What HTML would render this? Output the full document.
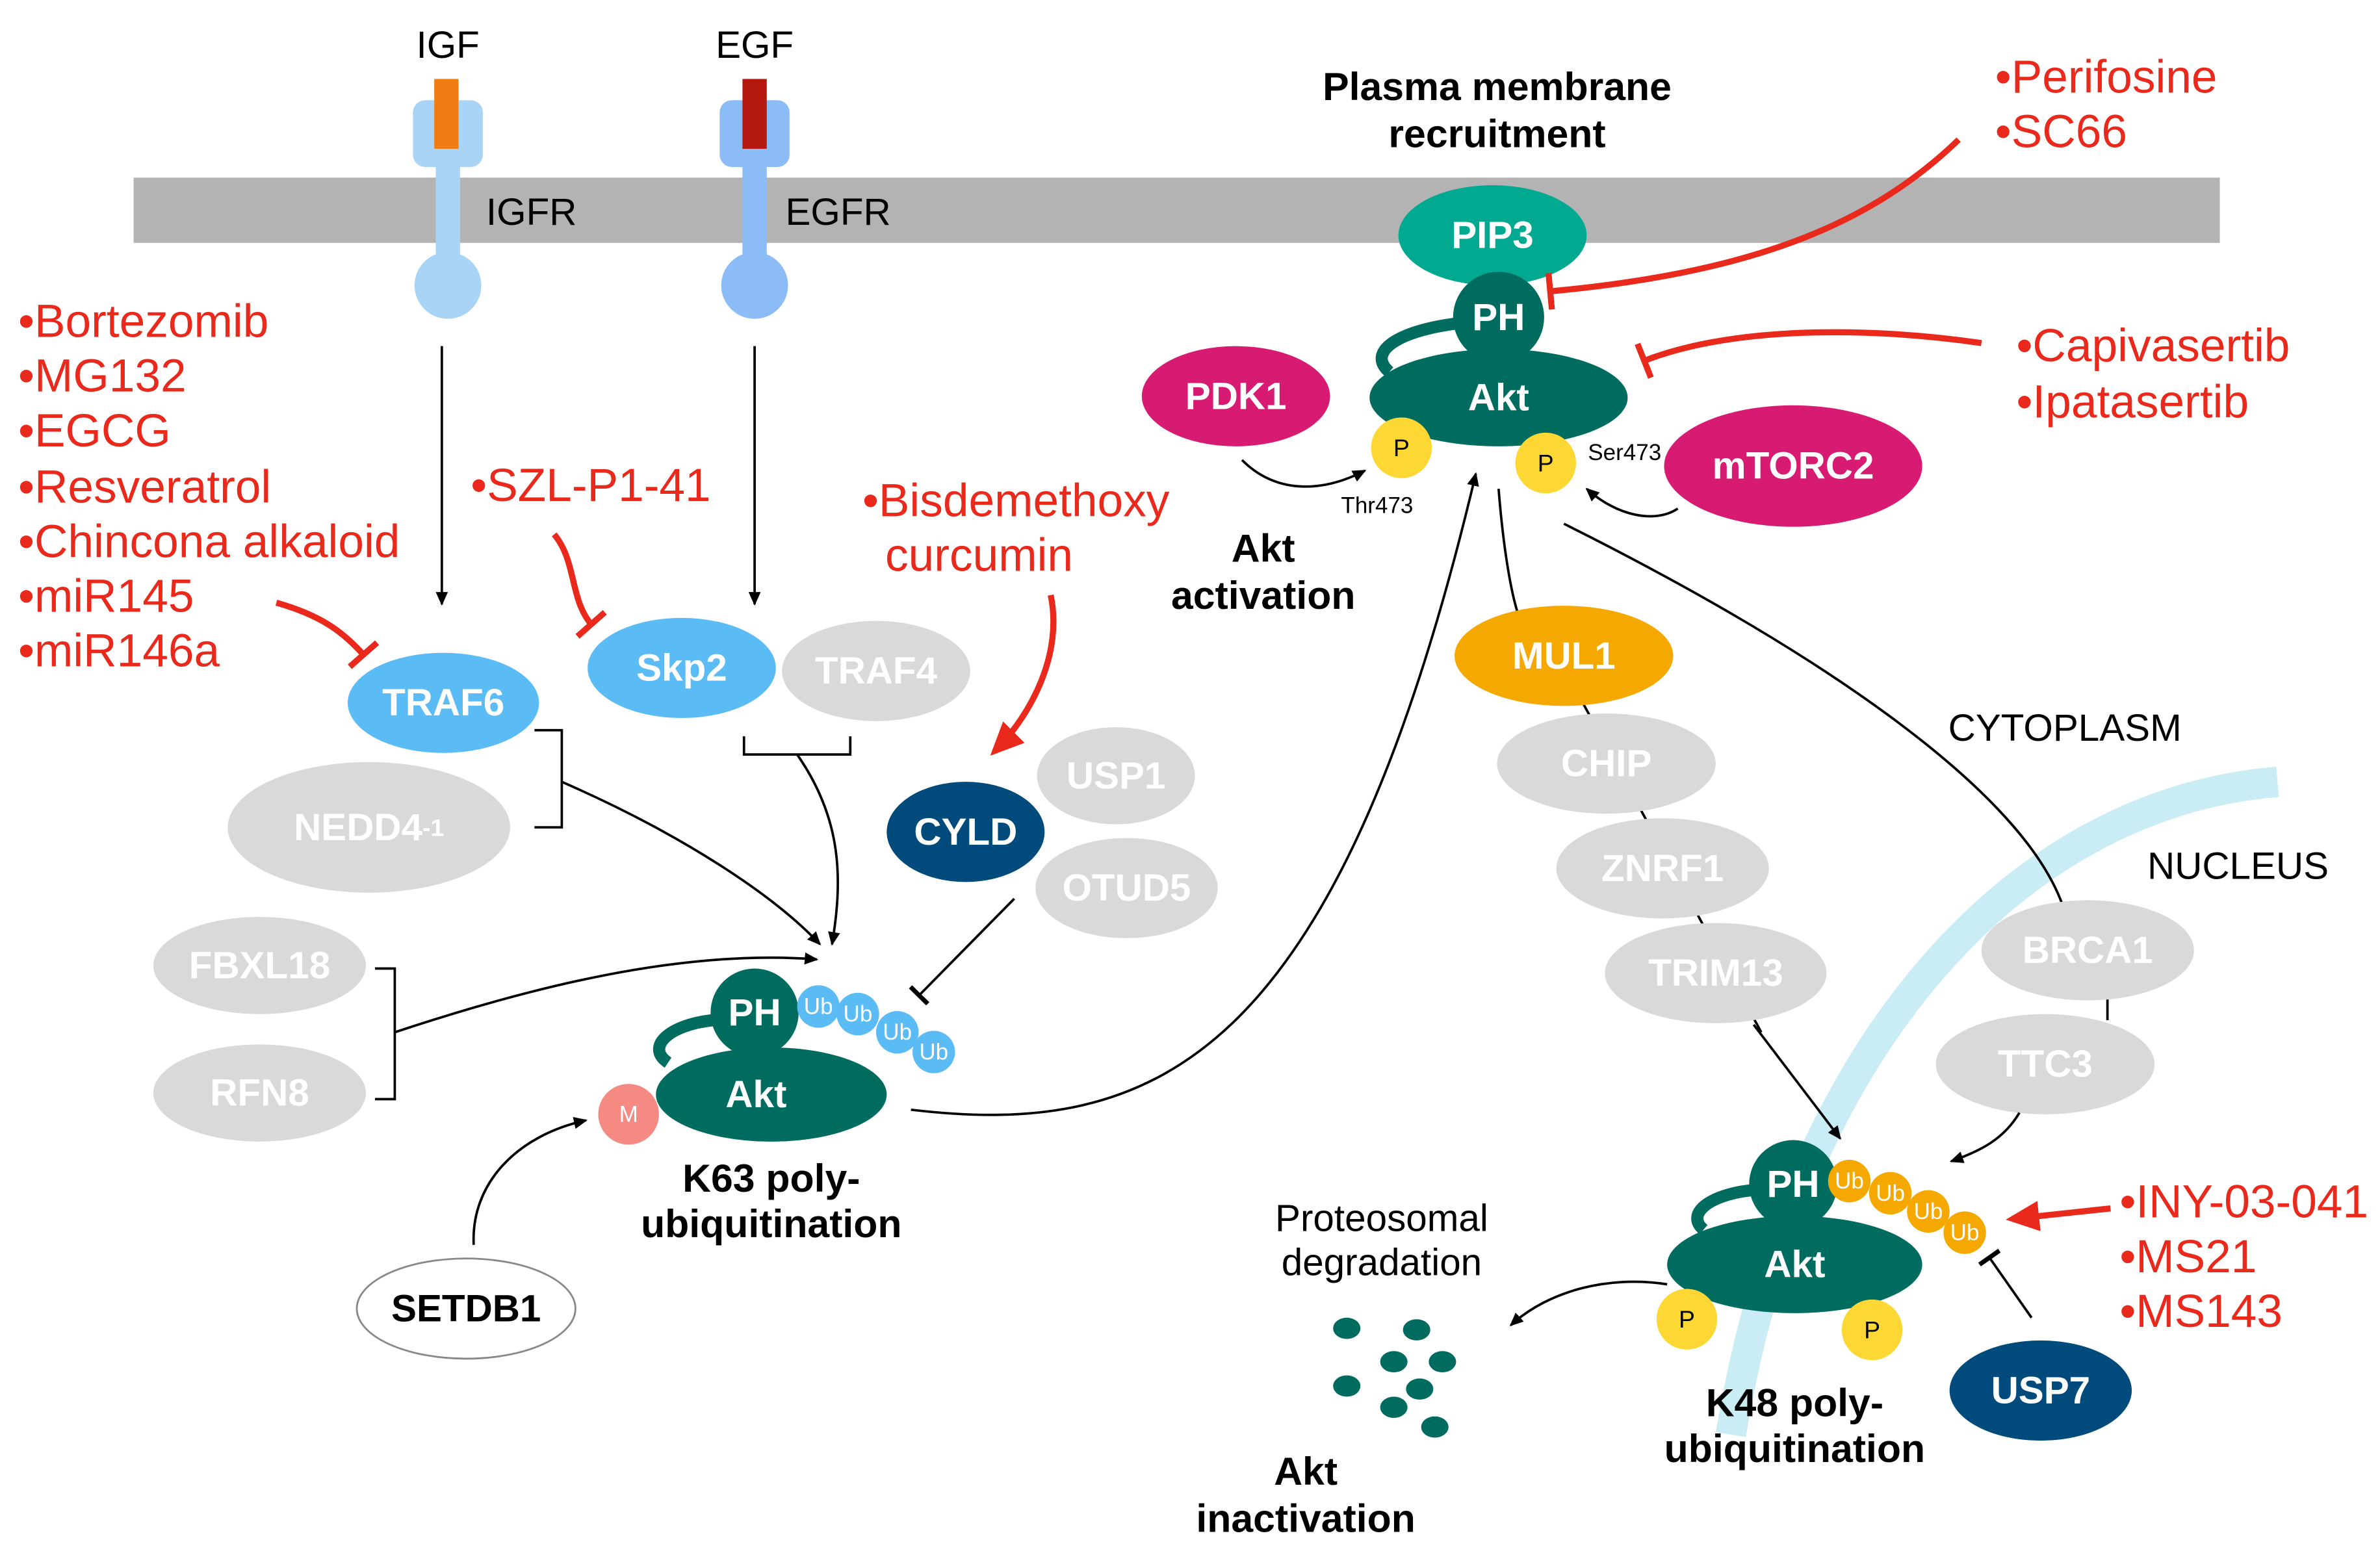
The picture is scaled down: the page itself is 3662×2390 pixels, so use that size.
<!DOCTYPE html>
<html><head><meta charset="utf-8"><style>
html,body{margin:0;padding:0;background:#fff}
svg{display:block}
text{font-family:"Liberation Sans",Arial,sans-serif}
.w{fill:#fff;font-weight:bold;font-size:25px;text-anchor:middle;dominant-baseline:central}
.r{fill:#e8291b;font-size:30.5px}
.b{fill:#000;font-weight:bold;font-size:26px;text-anchor:middle}
.n{fill:#000;font-size:25px;text-anchor:middle}
.ub{fill:#fff;font-size:15px;text-anchor:middle;dominant-baseline:central}
.ln{fill:none;stroke:#000;stroke-width:1.6}
.rl{fill:none;stroke:#e8291b;stroke-width:4}
</style></head><body>
<svg width="3662" height="2390" viewBox="0 0 1567.5 1023" preserveAspectRatio="none" xmlns="http://www.w3.org/2000/svg">
<defs>
<marker id="a" markerWidth="10" markerHeight="10" refX="8" refY="5" orient="auto" markerUnits="userSpaceOnUse"><path d="M0,1 L9,5 L0,9 z" fill="#000"/></marker>
<marker id="ra" markerWidth="24" markerHeight="24" refX="18" refY="12" orient="auto" markerUnits="userSpaceOnUse"><path d="M0,2 L22,12 L0,22 z" fill="#e8291b"/></marker>
<marker id="t" markerWidth="4" markerHeight="16" refX="2" refY="8" orient="auto" markerUnits="userSpaceOnUse"><rect x="0" y="0" width="3" height="16" fill="#000"/></marker>
<marker id="rt" markerWidth="6" markerHeight="24" refX="3" refY="12" orient="auto" markerUnits="userSpaceOnUse"><rect x="0" y="0" width="4" height="24" fill="#e8291b"/></marker>
</defs>

<rect x="88" y="117" width="1374" height="43" fill="#b3b3b3"/>
<path d="M1500,515 C1320,530 1180,700 1140,945" fill="none" stroke="#c9ecf5" stroke-width="20"/>

<rect x="287" y="100" width="16" height="80" fill="#aad4f5"/>
<rect x="272" y="66" width="46" height="44" rx="8" fill="#aad4f5"/>
<circle cx="295" cy="188" r="22" fill="#aad4f5"/>
<rect x="286" y="52" width="16" height="46" fill="#f07d14"/>
<text x="295" y="38" class="n">IGF</text>
<text x="350" y="148" class="n">IGFR</text>
<rect x="489" y="100" width="16" height="80" fill="#8bbcf5"/>
<rect x="474" y="66" width="46" height="44" rx="8" fill="#8bbcf5"/>
<circle cx="497" cy="188" r="22" fill="#8bbcf5"/>
<rect x="489" y="52" width="16" height="46" fill="#b5180e"/>
<text x="497" y="38" class="n">EGF</text>
<text x="552" y="148" class="n">EGFR</text>

<line x1="291" y1="228" x2="291" y2="398" class="ln" marker-end="url(#a)"/>
<line x1="497" y1="228" x2="497" y2="398" class="ln" marker-end="url(#a)"/>

<text class="r" x="12" y="222">•Bortezomib</text>
<text class="r" x="12" y="258">•MG132</text>
<text class="r" x="12" y="294">•EGCG</text>
<text class="r" x="12" y="331">•Resveratrol</text>
<text class="r" x="12" y="367">•Chincona alkaloid</text>
<text class="r" x="12" y="403">•miR145</text>
<text class="r" x="12" y="439">•miR146a</text>
<path d="M182,397 C210,405 225,415 240,432" class="rl" marker-end="url(#rt)"/>

<text class="r" x="310" y="330">•SZL-P1-41</text>
<path d="M365,352 C380,370 375,395 390,412" class="rl" marker-end="url(#rt)"/>

<text class="r" x="568" y="340">•Bisdemethoxy</text>
<text class="r" x="583" y="376">curcumin</text>
<path d="M692,392 C700,430 680,470 655,495" class="rl" marker-end="url(#ra)"/>

<ellipse cx="292" cy="463" rx="63" ry="33" fill="#5bbcf5"/><text class="w" x="292" y="463">TRAF6</text>
<ellipse cx="243" cy="545" rx="93" ry="43" fill="#d9d9d9"/><text class="w" x="243" y="545">NEDD4<tspan font-size="16">-1</tspan></text>
<ellipse cx="449" cy="440" rx="62" ry="33" fill="#5bbcf5"/><text class="w" x="449" y="440">Skp2</text>
<ellipse cx="577" cy="442" rx="62" ry="33" fill="#d9d9d9"/><text class="w" x="577" y="442">TRAF4</text>
<ellipse cx="636" cy="548" rx="52" ry="33" fill="#004b7c"/><text class="w" x="636" y="548">CYLD</text>
<ellipse cx="735" cy="511" rx="52" ry="32" fill="#d9d9d9"/><text class="w" x="735" y="511">USP1</text>
<ellipse cx="742" cy="585" rx="60" ry="33" fill="#d9d9d9"/><text class="w" x="742" y="585">OTUD5</text>
<ellipse cx="171" cy="636" rx="70" ry="32" fill="#d9d9d9"/><text class="w" x="171" y="636">FBXL18</text>
<ellipse cx="171" cy="720" rx="70" ry="32" fill="#d9d9d9"/><text class="w" x="171" y="720">RFN8</text>

<polyline points="352,481 370,481 370,545 352,545" class="ln"/>
<path d="M370,515 C450,550 510,590 540,622" class="ln" marker-end="url(#a)"/>
<polyline points="490,485 490,497 560,497 560,485" class="ln"/>
<path d="M525,497 C555,540 555,580 548,622" class="ln" marker-end="url(#a)"/>
<polyline points="247,638 260,638 260,724 247,724" class="ln"/>
<path d="M260,680 C350,650 450,625 538,632" class="ln" marker-end="url(#a)"/>
<line x1="668" y1="592" x2="605" y2="656" class="ln" marker-end="url(#t)"/>

<path d="M470,672 C440,675 425,690 440,700" fill="none" stroke="#006b5f" stroke-width="8"/>
<ellipse cx="508" cy="721" rx="76" ry="31" fill="#006b5f"/><text class="w" x="498" y="721">Akt</text>
<circle cx="497" cy="667" r="29" fill="#006b5f"/><text class="w" x="497" y="667">PH</text>
<circle cx="539" cy="663" r="14" fill="#5bbcf5"/><text class="ub" x="539" y="663">Ub</text>
<circle cx="565" cy="668" r="14" fill="#5bbcf5"/><text class="ub" x="565" y="668">Ub</text>
<circle cx="591" cy="680" r="14" fill="#5bbcf5"/><text class="ub" x="591" y="680">Ub</text>
<circle cx="615" cy="693" r="14" fill="#5bbcf5"/><text class="ub" x="615" y="693">Ub</text>
<circle cx="414" cy="734" r="20" fill="#f58a82"/><text class="ub" x="414" y="734">M</text>
<text class="b" x="508" y="785">K63 poly-</text>
<text class="b" x="508" y="815">ubiquitination</text>
<ellipse cx="307" cy="862" rx="72" ry="33" fill="#fff" stroke="#888" stroke-width="1.2"/>
<text x="307" y="862" class="w" style="fill:#000">SETDB1</text>
<path d="M312,820 C310,780 340,748 386,738" class="ln" marker-end="url(#a)"/>
<path d="M600,731 C760,750 880,700 972,312" class="ln" marker-end="url(#a)"/>

<text class="b" x="986" y="66">Plasma membrane</text>
<text class="b" x="986" y="97">recruitment</text>
<path d="M960,213 C920,218 900,232 915,245" fill="none" stroke="#006b5f" stroke-width="8"/>
<ellipse cx="983" cy="155" rx="62" ry="33" fill="#00a98f"/><text class="w" x="983" y="155">PIP3</text>
<ellipse cx="987" cy="262" rx="85" ry="32" fill="#006b5f"/><text class="w" x="987" y="262">Akt</text>
<circle cx="987" cy="209" r="30" fill="#006b5f"/><text class="w" x="987" y="209">PH</text>
<circle cx="923" cy="295" r="20" fill="#fdd835"/><text class="ub" x="923" y="295" style="fill:#000;font-size:16px">P</text>
<circle cx="1018" cy="305" r="20" fill="#fdd835"/><text class="ub" x="1018" y="305" style="fill:#000;font-size:16px">P</text>
<text x="907" y="338" font-size="15" text-anchor="middle">Thr473</text>
<text x="1070" y="303" font-size="15" text-anchor="middle">Ser473</text>
<ellipse cx="814" cy="261" rx="62" ry="33" fill="#d81b72"/><text class="w" x="814" y="261">PDK1</text>
<path d="M818,303 C840,325 870,325 899,310" class="ln" marker-end="url(#a)"/>
<ellipse cx="1181" cy="307" rx="85" ry="40" fill="#d81b72"/><text class="w" x="1181" y="307">mTORC2</text>
<path d="M1105,335 C1090,345 1065,340 1045,322" class="ln" marker-end="url(#a)"/>
<text class="b" x="832" y="370">Akt</text>
<text class="b" x="832" y="401">activation</text>

<text class="r" x="1314" y="61">•Perifosine</text>
<text class="r" x="1314" y="97">•SC66</text>
<path d="M1290,92 C1230,150 1150,180 1020,192" class="rl" marker-end="url(#rt)"/>
<text class="r" x="1328" y="238">•Capivasertib</text>
<text class="r" x="1328" y="275">•Ipatasertib</text>
<path d="M1305,226 C1230,215 1140,215 1082,238" class="rl" marker-end="url(#rt)"/>

<path d="M987,322 C990,360 995,390 1000,405" class="ln"/>
<path d="M1030,345 C1200,430 1330,520 1358,595" class="ln"/>
<line x1="1030" y1="440" x2="1160" y2="680" class="ln"/>
<ellipse cx="1030" cy="432" rx="72" ry="33" fill="#f5a800"/><text class="w" x="1030" y="432">MUL1</text>
<ellipse cx="1058" cy="503" rx="72" ry="33" fill="#d9d9d9"/><text class="w" x="1058" y="503">CHIP</text>
<ellipse cx="1095" cy="572" rx="70" ry="33" fill="#d9d9d9"/><text class="w" x="1095" y="572">ZNRF1</text>
<ellipse cx="1130" cy="641" rx="73" ry="33" fill="#d9d9d9"/><text class="w" x="1130" y="641">TRIM13</text>
<line x1="1155" y1="675" x2="1212" y2="750" class="ln" marker-end="url(#a)"/>
<line x1="1388" y1="655" x2="1388" y2="672" class="ln"/>
<ellipse cx="1375" cy="626" rx="70" ry="33" fill="#d9d9d9"/><text class="w" x="1375" y="626">BRCA1</text>
<ellipse cx="1347" cy="701" rx="72" ry="33" fill="#d9d9d9"/><text class="w" x="1347" y="701">TTC3</text>
<path d="M1330,733 C1320,750 1305,758 1285,765" class="ln" marker-end="url(#a)"/>
<text x="1360" y="488" class="n">CYTOPLASM</text>
<text x="1474" y="579" class="n">NUCLEUS</text>

<path d="M1154,784 C1125,787 1110,800 1122,810" fill="none" stroke="#006b5f" stroke-width="8"/>
<ellipse cx="1182" cy="833" rx="84" ry="32" fill="#006b5f"/><text class="w" x="1182" y="833">Akt</text>
<circle cx="1181" cy="780" r="29" fill="#006b5f"/><text class="w" x="1181" y="780">PH</text>
<circle cx="1218" cy="778" r="14" fill="#f5a800"/><text class="ub" x="1218" y="778">Ub</text>
<circle cx="1245" cy="786" r="14" fill="#f5a800"/><text class="ub" x="1245" y="786">Ub</text>
<circle cx="1270" cy="798" r="14" fill="#f5a800"/><text class="ub" x="1270" y="798">Ub</text>
<circle cx="1294" cy="812" r="14" fill="#f5a800"/><text class="ub" x="1294" y="812">Ub</text>
<circle cx="1111" cy="869" r="20" fill="#fdd835"/><text class="ub" x="1111" y="869" style="fill:#000;font-size:16px">P</text>
<circle cx="1233" cy="876" r="20" fill="#fdd835"/><text class="ub" x="1233" y="876" style="fill:#000;font-size:16px">P</text>
<line x1="1390" y1="796" x2="1325" y2="803" class="rl" stroke-width="5" marker-end="url(#ra)"/>
<text class="r" x="1396" y="802">•INY-03-041</text>
<text class="r" x="1396" y="838">•MS21</text>
<text class="r" x="1396" y="874">•MS143</text>
<ellipse cx="1344" cy="916" rx="60" ry="33" fill="#004b7c"/><text class="w" x="1344" y="916">USP7</text>
<line x1="1338" y1="868" x2="1310" y2="828" class="ln" marker-end="url(#t)"/>
<text class="b" x="1182" y="933">K48 poly-</text>
<text class="b" x="1182" y="963">ubiquitination</text>
<path d="M1098,846 C1060,840 1020,850 995,873" class="ln" marker-end="url(#a)"/>
<text class="n" x="910" y="811">Proteosomal</text>
<text class="n" x="910" y="840">degradation</text>
<g fill="#006b5f">
<ellipse cx="887" cy="875" rx="9" ry="7"/><ellipse cx="933" cy="876" rx="9" ry="7"/>
<ellipse cx="918" cy="897" rx="9" ry="7"/><ellipse cx="950" cy="897" rx="9" ry="7"/>
<ellipse cx="887" cy="913" rx="9" ry="7"/><ellipse cx="935" cy="915" rx="9" ry="7"/>
<ellipse cx="918" cy="927" rx="9" ry="7"/><ellipse cx="945" cy="940" rx="9" ry="7"/>
</g>
<text class="b" x="860" y="978">Akt</text>
<text class="b" x="860" y="1009">inactivation</text>
</svg>
</body></html>
